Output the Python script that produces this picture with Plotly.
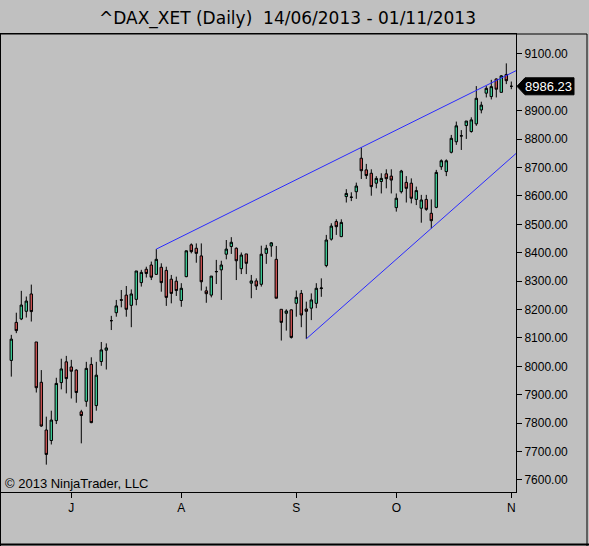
import plotly.graph_objects as go

# ---- data ----
opens = [8021, 8155, 8167, 8194, 8255, 8086, 7944, 7776, 7739, 7809,
         7943, 8016, 7998, 7987, 7840, 7877, 8007, 7862, 8017, 8057,
         8161, 8189, 8235, 8251, 8215, 8236, 8295, 8342, 8357, 8324,
         8349, 8338, 8307, 8300, 8232, 8316, 8428, 8416, 8389, 8266,
         8251, 8333, 8340, 8395, 8422, 8416, 8344, 8396, 8293, 8301,
         8289, 8398, 8424, 8377, 8201, 8187, 8199, 8222, 8257, 8202,
         8205, 8222, 8274, 8355, 8448, 8510, 8457, 8598, 8595, 8615,
         8733, 8692, 8680, 8645, 8651, 8678, 8670, 8559, 8615, 8648,
         8645, 8588, 8557, 8588, 8539, 8560, 8703, 8686, 8754, 8791,
         8811, 8848, 8827, 8854, 8903, 8962, 8950, 9012, 8965, 9028,
         8986.23]
highs = [8111, 8189, 8266, 8246, 8288, 8086, 7987, 7823, 7844, 7960,
         8027, 8037, 8023, 7990, 7847, 8016, 8032, 8016, 8086, 8081,
         8178, 8234, 8269, 8283, 8271, 8336, 8340, 8351, 8369, 8413,
         8363, 8351, 8322, 8316, 8293, 8408, 8433, 8433, 8433, 8281,
         8318, 8375, 8372, 8445, 8455, 8419, 8401, 8396, 8322, 8310,
         8425, 8428, 8438, 8424, 8201, 8201, 8201, 8267, 8269, 8228,
         8257, 8293, 8310, 8463, 8504, 8518, 8518, 8624, 8613, 8647,
         8771, 8713, 8694, 8670, 8680, 8694, 8694, 8609, 8692, 8670,
         8662, 8633, 8604, 8604, 8588, 8692, 8729, 8729, 8815, 8862,
         8832, 8864, 8877, 8987, 8932, 8987, 9009, 9014, 9026, 9067,
         9003]
lows = [7964, 8117, 8163, 8172, 8158, 7908, 7787, 7654, 7725, 7797,
        7919, 7905, 7887, 7872, 7729, 7858, 7800, 7844, 8002, 7989,
        8128, 8175, 8208, 8175, 8138, 8215, 8281, 8313, 8304, 8322,
        8263, 8213, 8222, 8248, 8210, 8314, 8398, 8365, 8267, 8224,
        8243, 8290, 8234, 8377, 8396, 8304, 8325, 8325, 8240, 8269,
        8281, 8361, 8386, 8240, 8091, 8126, 8098, 8175, 8138, 8097,
        8163, 8205, 8245, 8349, 8443, 8463, 8455, 8577, 8582, 8590,
        8660, 8660, 8601, 8627, 8609, 8627, 8609, 8545, 8609, 8577,
        8574, 8568, 8506, 8548, 8486, 8557, 8692, 8670, 8750, 8780,
        8762, 8801, 8823, 8847, 8891, 8947, 8940, 8947, 8964, 8994,
        8976]
closes = [8096, 8126, 8216, 8230, 8193, 7925, 7790, 7690, 7811, 7940,
          7991, 7957, 7983, 7908, 7827, 7993, 7802, 7969, 8058, 8065,
          8161, 8213, 8233, 8201, 8255, 8336, 8331, 8327, 8314, 8377,
          8295, 8243, 8257, 8267, 8275, 8407, 8404, 8398, 8298, 8256,
          8318, 8334, 8357, 8413, 8437, 8372, 8392, 8363, 8301, 8283,
          8395, 8416, 8435, 8240, 8155, 8195, 8102, 8243, 8181, 8194,
          8234, 8275, 8276, 8445, 8494, 8492, 8507, 8609, 8596, 8635,
          8689, 8672, 8633, 8662, 8662, 8661, 8656, 8592, 8688, 8627,
          8592, 8619, 8586, 8553, 8513, 8683, 8724, 8724, 8803, 8847,
          8812, 8864, 8868, 8944, 8920, 8979, 8985, 8976, 9023, 9006,
          8986.23]

bar_index = list(range(len(closes)))          # trading-day index
month_tick_index = [12, 34, 57, 77, 100]      # first trading day of each month
month_labels = ["J", "A", "S", "O", "N"]
price_ticks = [7600, 7700, 7800, 7900, 8000, 8100, 8200, 8300, 8400,
               8500, 8600, 8700, 8800, 8900, 9100]

# trend-line anchors (bar indices): upper through two highs, lower through two lows
upper_anchor = [29, 70]
lower_anchor = [59, 84]

x_range = [-2.06, 100.94]
y_range = [7557.7, 9170.4]

UP = "#3cc894"
DOWN = "#c85050"
BG = "#c0c0c0"
FONT = "Liberation Sans, Arial, sans-serif"
TITLE_FONT = "DejaVu Sans, Verdana, sans-serif"

fig = go.Figure()

fig.add_trace(go.Candlestick(
    x=bar_index, open=opens, high=highs, low=lows, close=closes,
    increasing=dict(fillcolor=UP, line=dict(color="black", width=1)),
    decreasing=dict(fillcolor=DOWN, line=dict(color="black", width=1)),
    whiskerwidth=0, showlegend=False, hoverinfo="skip",
))


def trend(anchor, series):
    a, b = anchor
    slope = (series[b] - series[a]) / (b - a)
    xe = x_range[1]
    return [a, xe], [series[a], series[a] + slope * (xe - a)]


for anc, ser in ((upper_anchor, highs), (lower_anchor, lows)):
    tx, ty = trend(anc, ser)
    fig.add_trace(go.Scatter(x=tx, y=ty, mode="lines",
                             line=dict(color="#2a2aff", width=1),
                             showlegend=False, hoverinfo="skip"))

fig.update_layout(
    width=589, height=546,
    margin=dict(l=1, r=73, t=34, b=54),
    paper_bgcolor=BG, plot_bgcolor=BG,
    font=dict(family=FONT, size=12, color="black"),
    title=dict(text="^DAX_XET (Daily)\u00a0\u00a014/06/2013 - 01/11/2013",
               x=287.5 / 589, xanchor="center", xref="container",
               y=1 - 18 / 546, yanchor="middle", yref="container",
               font=dict(family=TITLE_FONT, size=17, color="black")),
    showlegend=False,
    hovermode=False,
    xaxis=dict(range=x_range, rangeslider=dict(visible=False),
               tickmode="array", tickvals=month_tick_index, ticktext=month_labels,
               ticks="outside", ticklen=5, tickcolor="black",
               showgrid=False, zeroline=False,
               showline=True, mirror=True, linecolor="black", linewidth=1,
               tickfont=dict(family=FONT, size=12, color="black")),
    yaxis=dict(range=y_range, side="right",
               tickmode="array", tickvals=price_ticks, tickformat=".2f",
               ticks="outside", ticklen=5, tickcolor="black",
               showgrid=False, zeroline=False,
               showline=True, mirror=True, linecolor="black", linewidth=1,
               tickfont=dict(family=FONT, size=12, color="black")),
)

# outer panel frame (sides + separate bottom edge)
fig.add_shape(type="rect", xref="paper", yref="paper",
              x0=-0.5 / 515, x1=586 / 515, y0=-60 / 458, y1=1.0,
              line=dict(color="black", width=1), fillcolor="rgba(0,0,0,0)",
              layer="above")
fig.add_shape(type="line", xref="paper", yref="paper",
              x0=-1 / 515, x1=588 / 515, y0=-52.5 / 458, y1=-52.5 / 458,
              line=dict(color="black", width=2), layer="above")

# last price marker
last = closes[-1]
fig.add_shape(type="path", xref="paper", yref="y",
              xsizemode="pixel", ysizemode="pixel",
              xanchor=1, yanchor=last,
              path="M 1,0 L 9,8.5 L 58,8.5 L 58,-8.5 L 9,-8.5 Z",
              fillcolor="black", line=dict(color="black", width=1),
              layer="above")
fig.add_annotation(xref="paper", yref="y", x=548.5 / 515 - 1 / 515, y=last,
                   text=f"{last:.2f}", showarrow=False,
                   xanchor="center", yanchor="middle",
                   font=dict(family=FONT, size=13, color="white"))

fig.add_annotation(xref="paper", yref="paper", x=2 / 515, y=9 / 458,
                   text="\u00a9 2013 NinjaTrader, LLC", showarrow=False,
                   xanchor="left", yanchor="middle",
                   font=dict(family=FONT, size=13, color="black"))

fig.write_html("out.html",
               config={"displayModeBar": False},
               post_script="document.body.style.margin='0';"
                           "document.body.style.background='#c0c0c0';")
